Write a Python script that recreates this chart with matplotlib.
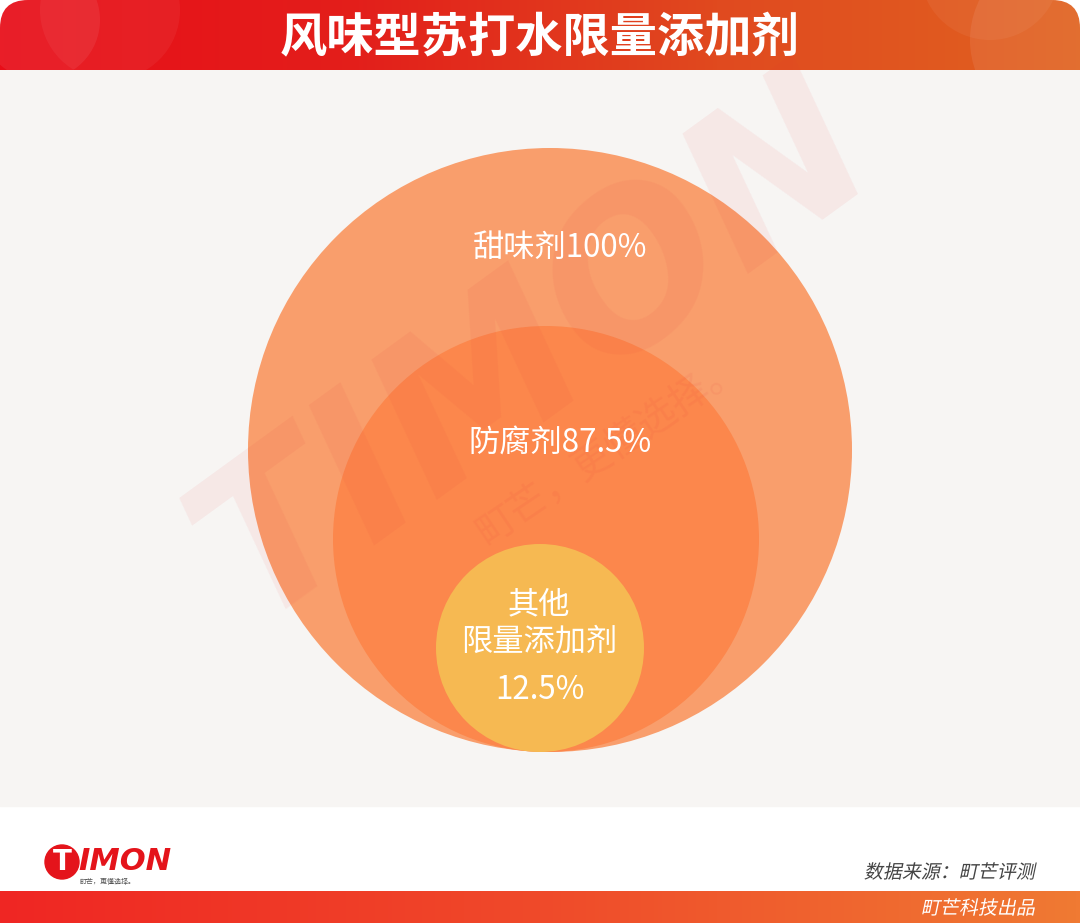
import numpy as np
import matplotlib
matplotlib.use("Agg")
import matplotlib.pyplot as plt
from matplotlib.patches import Circle, Rectangle, FancyBboxPatch, PathPatch
from matplotlib.textpath import TextPath
from matplotlib.font_manager import FontProperties
from matplotlib.transforms import Affine2D

plt.rcParams['font.family'] = ['Noto Sans CJK SC', 'DejaVu Sans']

# data
title = "风味型苏打水限量添加剂"
names = ["甜味剂", "防腐剂", "其他\n限量添加剂"]
values = [100, 87.5, 12.5]
source = "数据来源：町芒评测"
credit = "町芒科技出品"

# layout (pixels) - circles are bottom aligned, sizes not scaled by value
radii = [302, 213, 104]
centers_x = [550, 546, 540]
bottom_y = 752
colors = ["#f99e6c", "#fc874c", "#f6b952"]

W, H = 1080, 923
fig = plt.figure(figsize=(W / 100, H / 100), dpi=100)
ax = fig.add_axes([0, 0, 1, 1])
ax.set_xlim(0, W)
ax.set_ylim(H, 0)
ax.axis("off")


def slanted(x, y, s, size, color):
    # fake italic text, right aligned at x, centred on y
    tp = TextPath((0, 0), s, size=size, prop=FontProperties(family="Noto Sans CJK SC"))
    bb = tp.get_extents()
    tr = (Affine2D().translate(-bb.x1, -(bb.y0 + bb.y1) / 2)
          .skew_deg(12, 0).scale(1, -1).translate(x, y))
    ax.add_patch(PathPatch(tr.transform_path(tp), color=color, lw=0, zorder=4))


# backgrounds
ax.add_patch(Rectangle((0, 0), W, H, color="white", zorder=0))
ax.add_patch(Rectangle((0, 70), W, 736, color="#f7f5f3", zorder=0))

# title bar gradient with rounded top
grad = np.linspace(0, 1, 256)
cmap_top = matplotlib.colors.LinearSegmentedColormap.from_list(
    "top", ["#e80d18", "#e31f1b", "#e04a1f", "#e0621f"])
im = ax.imshow(grad[None, :], extent=(0, W, 70, 0), cmap=cmap_top,
               aspect="auto", zorder=1)
clip = FancyBboxPatch((0, 0), W, 100, boxstyle="round,pad=0,rounding_size=28",
                      transform=ax.transData, facecolor="none", edgecolor="none")
ax.add_patch(clip)
im.set_clip_path(clip)
for cx, cy, r, a in [(40, 20, 60, 0.07), (110, 10, 70, 0.05),
                     (1060, 40, 90, 0.08), (990, -30, 70, 0.05)]:
    c = Circle((cx, cy), r, color="white", alpha=a, zorder=1.5, lw=0)
    ax.add_patch(c)
    c.set_clip_path(clip)
ax.text(W / 2, 38, title, color="white", fontsize=34, fontweight="heavy",
        ha="center", va="center", zorder=3)

# circles
for r, cx, col in zip(radii, centers_x, colors):
    ax.add_patch(Circle((cx, bottom_y - r), r, color=col, lw=0, zorder=2))

# watermark
ax.text(535, 350, "TIMON", fontsize=150, fontweight="bold", style="italic",
        color="#e8343a", alpha=0.07, rotation=36, ha="center", va="center",
        family="DejaVu Sans", zorder=2.5)
ax.text(610, 450, "町芒，更懂选择。", fontsize=28, color="#e8343a", alpha=0.08,
        rotation=34, ha="center", va="center", zorder=2.5)

# labels
ax.text(560, 248, f"{names[0]}{values[0]:g}%", color="white", fontsize=22.5,
        ha="center", va="center", zorder=4)
ax.text(560, 443, f"{names[1]}{values[1]:g}%", color="white", fontsize=22.5,
        ha="center", va="center", zorder=4)
ax.text(539, 623, names[2], color="white", fontsize=22.5, ha="center",
        va="center", linespacing=1.2, zorder=4)
ax.text(540, 690, f"{values[2]:g}%", color="white", fontsize=22.5,
        ha="center", va="center", zorder=4)

# footer logo
ax.add_patch(Circle((62, 862), 17, color="#e4141b", zorder=3))
ax.text(62, 862, "T", color="white", fontsize=20, fontweight="bold",
        ha="center", va="center", family="DejaVu Sans", zorder=4)
ax.text(78, 862, "IMON", color="#e4141b", fontsize=22, fontweight="bold",
        style="italic", ha="left", va="center", family="DejaVu Sans", zorder=4)
ax.text(80, 882, "町芒，更懂选择。", color="#555555", fontsize=5,
        ha="left", va="center", zorder=4)
slanted(1035, 871, source, 19, "#444444")

# bottom bar
cmap_bot = matplotlib.colors.LinearSegmentedColormap.from_list(
    "bot", ["#ef2623", "#ef4a2a", "#f07a33"])
ax.imshow(grad[None, :], extent=(0, W, 923, 891), cmap=cmap_bot,
          aspect="auto", zorder=1)
slanted(1035, 907, credit, 19, "white")

ax.set_xlim(0, W)
ax.set_ylim(H, 0)
fig.savefig("out.png", dpi=100)
